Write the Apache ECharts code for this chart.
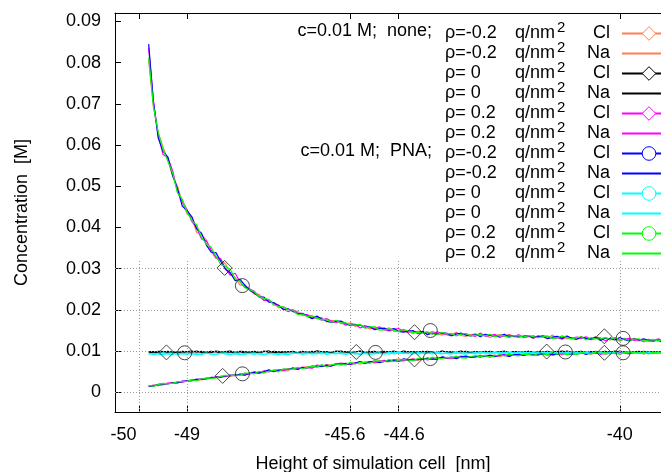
<!DOCTYPE html>
<html>
<head>
<meta charset="utf-8">
<script src="https://cdn.jsdelivr.net/npm/echarts@6/dist/echarts.min.js"></script>
<style>html,body{margin:0;padding:0;background:#fff}#c{width:661px;height:472px}</style>
</head>
<body>
<div id="c"></div>
<script>
// ---------- data ----------
var xs = [-49.8,-49.7,-49.6,-49.5,-49.4,-49.3,-49.2,-49.1,-49.0,-48.9,-48.8,-48.7,-48.6,-48.5,-48.4,-48.3,-48.2,-48.1,-48.0,-47.9,-47.8,-47.7,-47.6,-47.5,-47.4,-47.3,-47.2,-47.1,-47.0,-46.9,-46.8,-46.7,-46.6,-46.5,-46.4,-46.3,-46.2,-46.1,-46.0,-45.9,-45.8,-45.7,-45.6,-45.5,-45.4,-45.3,-45.2,-45.1,-45.0,-44.9,-44.8,-44.7,-44.6,-44.5,-44.4,-44.3,-44.2,-44.1,-44.0,-43.9,-43.8,-43.7,-43.6,-43.5,-43.4,-43.3,-43.2,-43.1,-43.0,-42.9,-42.8,-42.7,-42.6,-42.5,-42.4,-42.3,-42.2,-42.1,-42.0,-41.9,-41.8,-41.7,-41.6,-41.5,-41.4,-41.3,-41.2,-41.1,-41.0,-40.9,-40.8,-40.7,-40.6,-40.5,-40.4,-40.3,-40.2,-40.1,-40.0,-39.9,-39.8,-39.7,-39.6,-39.5,-39.4,-39.3,-39.2,-39.1];

// none, rho=-0.2, Cl (orange)
var noneM02Cl = [0.00142,0.00177,0.00177,0.00181,0.00221,0.00245,0.00233,0.00264,0.00287,0.00282,0.00309,0.00304,0.00347,0.00350,0.00356,0.00394,0.00388,0.00394,0.00439,0.00432,0.00424,0.00472,0.00499,0.00477,0.00469,0.00531,0.00522,0.00548,0.00532,0.00523,0.00598,0.00575,0.00594,0.00626,0.00595,0.00641,0.00624,0.00677,0.00660,0.00663,0.00701,0.00662,0.00706,0.00722,0.00682,0.00746,0.00733,0.00727,0.00777,0.00749,0.00742,0.00784,0.00812,0.00777,0.00776,0.00817,0.00774,0.00808,0.00828,0.00799,0.00854,0.00839,0.00824,0.00815,0.00869,0.00853,0.00872,0.00856,0.00847,0.00908,0.00864,0.00883,0.00909,0.00864,0.00903,0.00914,0.00897,0.00936,0.00891,0.00916,0.00933,0.00908,0.00953,0.00935,0.00910,0.00934,0.00908,0.00959,0.00933,0.00956,0.00937,0.00974,0.00927,0.00950,0.00965,0.00917,0.00960,0.00975,0.00941,0.00956,0.00978,0.00944,0.00966,0.00932,0.00975,0.00962,0.00991,0.00958];
// none, rho=-0.2, Na (orange)
var noneM02Na = [0.0806,0.0692,0.0629,0.0595,0.0563,0.0524,0.0500,0.0462,0.0433,0.0424,0.0388,0.0382,0.0370,0.0342,0.0325,0.0320,0.0312,0.0288,0.0279,0.0260,0.0261,0.0250,0.0238,0.0238,0.0225,0.0221,0.0217,0.0205,0.0208,0.0202,0.0196,0.0197,0.0186,0.0186,0.0185,0.0178,0.0182,0.0171,0.0174,0.0174,0.0167,0.0166,0.0169,0.0160,0.0163,0.0159,0.0154,0.0159,0.0156,0.0151,0.0157,0.0148,0.0150,0.0151,0.0147,0.0143,0.0149,0.0146,0.0142,0.0148,0.0143,0.0139,0.0144,0.0140,0.0146,0.0138,0.0136,0.0140,0.0142,0.0138,0.0140,0.0133,0.0138,0.0140,0.0135,0.0141,0.0135,0.0133,0.0138,0.0136,0.0131,0.0138,0.0134,0.0132,0.0139,0.0132,0.0135,0.0130,0.0133,0.0128,0.0135,0.0131,0.0129,0.0135,0.0129,0.0132,0.0127,0.0130,0.0124,0.0131,0.0128,0.0131,0.0125,0.0128,0.0123,0.0128,0.0125,0.0128];
// none, rho=0, Cl (black)
var none0Cl = [0.00986,0.00992,0.00956,0.00980,0.00998,0.00968,0.00986,0.00950,0.00992,0.01004,0.00974,0.00998,0.00968,0.00962,0.01004,0.00986,0.00968,0.00980,0.00956,0.00998,0.00992,0.00974,0.00980,0.00962,0.01004,0.00968,0.00998,0.00986,0.00956,0.00992,0.00980,0.00968,0.00998,0.00974,0.00956,0.01010,0.00986,0.00968,0.00962,0.00992,0.01004,0.00980,0.00962,0.00986,0.00998,0.00968,0.00992,0.00956,0.00980,0.00998,0.00974,0.01004,0.00968,0.00962,0.00986,0.00992,0.00974,0.00998,0.00956,0.00980,0.00968,0.00998,0.00986,0.00962,0.00980,0.01004,0.00974,0.00968,0.00992,0.00956,0.00998,0.00986,0.00968,0.00980,0.01004,0.00962,0.00992,0.00974,0.00980,0.00998,0.00962,0.00986,0.00992,0.00956,0.00980,0.00998,0.00968,0.01004,0.00974,0.00962,0.00992,0.00980,0.00974,0.00998,0.00956,0.00992,0.00980,0.00968,0.01004,0.00974,0.00962,0.00992,0.00980,0.00998,0.00974,0.00968,0.00986,0.00956];
// none, rho=0, Na (black)
var none0Na = [0.00975,0.00965,0.00995,0.00990,0.00970,0.00985,0.00960,0.00995,0.00980,0.00975,0.01000,0.00970,0.00975,0.00995,0.00980,0.00965,0.00990,0.01000,0.00970,0.00985,0.00960,0.00980,0.00995,0.00970,0.00985,0.01005,0.00965,0.00975,0.00990,0.00980,0.00995,0.00960,0.00985,0.00970,0.00995,0.00980,0.00975,0.00990,0.00965,0.01000,0.00975,0.00990,0.00970,0.00980,0.01000,0.00965,0.00985,0.00995,0.00960,0.00975,0.00990,0.00980,0.00965,0.01000,0.00985,0.00970,0.00980,0.00975,0.00995,0.00970,0.00965,0.01000,0.00980,0.00990,0.00960,0.00985,0.00995,0.00970,0.00980,0.00985,0.00975,0.00995,0.00965,0.00990,0.00980,0.00960,0.00990,0.00985,0.00970,0.00995,0.00980,0.00970,0.00985,0.00995,0.00965,0.00975,0.01000,0.00980,0.00970,0.00985,0.00995,0.00960,0.00990,0.00975,0.00980,0.00995,0.00970,0.01000,0.00965,0.00985,0.00970,0.00985,0.00995,0.00965,0.00980,0.00990,0.00975,0.00990];
// none, rho=0.2, Cl (magenta)
var noneP02Cl = [0.0836,0.0706,0.0623,0.0577,0.0569,0.0538,0.0486,0.0464,0.0443,0.0414,0.0400,0.0372,0.0368,0.0346,0.0327,0.0324,0.0300,0.0284,0.0289,0.0268,0.0255,0.0251,0.0245,0.0233,0.0223,0.0224,0.0215,0.0212,0.0203,0.0196,0.0201,0.0192,0.0189,0.0189,0.0180,0.0182,0.0175,0.0179,0.0173,0.0170,0.0172,0.0163,0.0166,0.0165,0.0156,0.0162,0.0158,0.0154,0.0159,0.0152,0.0149,0.0153,0.0155,0.0148,0.0146,0.0150,0.0142,0.0145,0.0146,0.0141,0.0147,0.0143,0.0140,0.0137,0.0144,0.0140,0.0142,0.0138,0.0136,0.0144,0.0136,0.0138,0.0141,0.0133,0.0138,0.0139,0.0135,0.0140,0.0133,0.0135,0.0137,0.0133,0.0138,0.0135,0.0131,0.0133,0.0129,0.0136,0.0131,0.0134,0.0131,0.0135,0.0128,0.0131,0.0132,0.0125,0.0131,0.0132,0.0127,0.0129,0.0131,0.0126,0.0128,0.0123,0.0129,0.0126,0.0130,0.0124];
// none, rho=0.2, Na (magenta)
var noneP02Na = [0.00154,0.00173,0.00165,0.00197,0.00225,0.00221,0.00249,0.00240,0.00283,0.00306,0.00301,0.00332,0.00327,0.00338,0.00380,0.00382,0.00384,0.00406,0.00403,0.00444,0.00459,0.00451,0.00471,0.00463,0.00525,0.00496,0.00543,0.00541,0.00518,0.00572,0.00570,0.00568,0.00615,0.00598,0.00588,0.00662,0.00645,0.00635,0.00639,0.00684,0.00708,0.00690,0.00678,0.00715,0.00738,0.00711,0.00747,0.00713,0.00749,0.00777,0.00756,0.00798,0.00763,0.00763,0.00797,0.00810,0.00795,0.00829,0.00786,0.00820,0.00812,0.00853,0.00845,0.00822,0.00848,0.00881,0.00851,0.00849,0.00882,0.00845,0.00899,0.00890,0.00874,0.00892,0.00924,0.00879,0.00918,0.00901,0.00912,0.00937,0.00898,0.00929,0.00939,0.00900,0.00931,0.00955,0.00922,0.00966,0.00933,0.00921,0.00958,0.00946,0.00941,0.00971,0.00923,0.00966,0.00953,0.00940,0.00983,0.00949,0.00936,0.00972,0.00959,0.00981,0.00954,0.00948,0.00970,0.00937];
// PNA, rho=-0.2, Cl (blue)
var pnaM02Cl = [0.00146,0.00153,0.00193,0.00205,0.00205,0.00233,0.00229,0.00272,0.00275,0.00286,0.00321,0.00312,0.00331,0.00362,0.00364,0.00366,0.00400,0.00422,0.00411,0.00436,0.00417,0.00458,0.00492,0.00470,0.00504,0.00545,0.00501,0.00527,0.00560,0.00558,0.00591,0.00554,0.00601,0.00591,0.00637,0.00627,0.00631,0.00663,0.00639,0.00698,0.00673,0.00704,0.00685,0.00708,0.00745,0.00704,0.00740,0.00762,0.00721,0.00749,0.00777,0.00770,0.00756,0.00812,0.00797,0.00782,0.00802,0.00801,0.00835,0.00806,0.00805,0.00860,0.00838,0.00857,0.00820,0.00860,0.00879,0.00849,0.00868,0.00880,0.00871,0.00904,0.00867,0.00906,0.00896,0.00872,0.00918,0.00915,0.00898,0.00937,0.00919,0.00908,0.00932,0.00949,0.00910,0.00927,0.00964,0.00938,0.00926,0.00949,0.00965,0.00918,0.00962,0.00943,0.00951,0.00973,0.00939,0.00982,0.00934,0.00963,0.00943,0.00965,0.00980,0.00939,0.00961,0.00976,0.00956,0.00979];
// PNA, rho=-0.2, Na (blue)
var pnaM02Na = [0.0845,0.0704,0.0617,0.0585,0.0571,0.0526,0.0494,0.0452,0.0441,0.0426,0.0396,0.0386,0.0358,0.0340,0.0339,0.0318,0.0298,0.0290,0.0271,0.0274,0.0260,0.0248,0.0241,0.0231,0.0231,0.0219,0.0218,0.0211,0.0201,0.0203,0.0197,0.0191,0.0192,0.0185,0.0179,0.0185,0.0178,0.0173,0.0170,0.0173,0.0173,0.0167,0.0162,0.0164,0.0164,0.0157,0.0160,0.0152,0.0155,0.0156,0.0151,0.0155,0.0148,0.0146,0.0149,0.0149,0.0145,0.0148,0.0140,0.0144,0.0141,0.0145,0.0143,0.0138,0.0141,0.0144,0.0139,0.0137,0.0141,0.0135,0.0141,0.0139,0.0136,0.0137,0.0141,0.0134,0.0138,0.0135,0.0136,0.0138,0.0132,0.0136,0.0136,0.0130,0.0134,0.0136,0.0131,0.0137,0.0131,0.0129,0.0134,0.0131,0.0130,0.0134,0.0126,0.0132,0.0130,0.0127,0.0133,0.0128,0.0125,0.0130,0.0127,0.0130,0.0126,0.0124,0.0127,0.0121];
// PNA, rho=0, Cl (cyan)
var pna0Cl = [0.00950,0.00915,0.00945,0.00960,0.00930,0.00920,0.00955,0.00935,0.00925,0.00950,0.00910,0.00940,0.00955,0.00925,0.00920,0.00945,0.00960,0.00930,0.00935,0.00915,0.00950,0.00940,0.00920,0.00955,0.00925,0.00935,0.00945,0.00910,0.00950,0.00940,0.00937,0.00962,0.00927,0.00942,0.00952,0.00932,0.00967,0.00922,0.00947,0.00957,0.00932,0.00937,0.00962,0.00927,0.00952,0.00942,0.00922,0.00957,0.00947,0.00932,0.00975,0.00935,0.00950,0.00960,0.00945,0.00930,0.00965,0.00955,0.00940,0.00970,0.00950,0.00935,0.00960,0.00945,0.00975,0.00940,0.00930,0.00955,0.00965,0.00945,0.00968,0.00933,0.00958,0.00973,0.00948,0.00978,0.00953,0.00943,0.00968,0.00963,0.00938,0.00973,0.00958,0.00948,0.00983,0.00953,0.00968,0.00943,0.00963,0.00938,0.00973,0.00958,0.00948,0.00978,0.00953,0.00968,0.00943,0.00963,0.00933,0.00968,0.00958,0.00973,0.00948,0.00963,0.00938,0.00968,0.00953,0.00973];
// PNA, rho=0, Na (cyan)
var pna0Na = [0.00925,0.00950,0.00930,0.00915,0.00945,0.00955,0.00920,0.00940,0.00950,0.00925,0.00940,0.00915,0.00950,0.00935,0.00925,0.00955,0.00930,0.00920,0.00960,0.00935,0.00920,0.00945,0.00955,0.00930,0.00915,0.00950,0.00935,0.00945,0.00925,0.00910,0.00962,0.00937,0.00942,0.00957,0.00927,0.00952,0.00932,0.00962,0.00942,0.00937,0.00957,0.00922,0.00947,0.00952,0.00917,0.00957,0.00942,0.00932,0.00962,0.00937,0.00935,0.00960,0.00975,0.00945,0.00940,0.00965,0.00930,0.00950,0.00960,0.00935,0.00970,0.00955,0.00940,0.00930,0.00965,0.00950,0.00960,0.00945,0.00935,0.00975,0.00948,0.00958,0.00973,0.00938,0.00963,0.00968,0.00953,0.00978,0.00943,0.00958,0.00968,0.00948,0.00978,0.00963,0.00943,0.00958,0.00938,0.00973,0.00953,0.00968,0.00953,0.00978,0.00943,0.00958,0.00968,0.00933,0.00963,0.00973,0.00948,0.00958,0.00973,0.00948,0.00963,0.00938,0.00968,0.00958,0.00978,0.00953];
// PNA, rho=0.2, Cl (green)
var pnaP02Cl = [0.0812,0.0694,0.0631,0.0589,0.0561,0.0532,0.0484,0.0468,0.0437,0.0416,0.0406,0.0376,0.0360,0.0352,0.0331,0.0310,0.0306,0.0298,0.0275,0.0270,0.0254,0.0249,0.0244,0.0232,0.0228,0.0226,0.0212,0.0209,0.0207,0.0201,0.0200,0.0189,0.0190,0.0184,0.0186,0.0180,0.0176,0.0177,0.0170,0.0175,0.0168,0.0169,0.0163,0.0163,0.0165,0.0156,0.0159,0.0159,0.0151,0.0152,0.0154,0.0151,0.0147,0.0153,0.0149,0.0145,0.0146,0.0144,0.0147,0.0142,0.0140,0.0146,0.0142,0.0143,0.0137,0.0141,0.0143,0.0137,0.0139,0.0140,0.0137,0.0141,0.0135,0.0139,0.0137,0.0133,0.0138,0.0137,0.0134,0.0138,0.0135,0.0133,0.0135,0.0137,0.0131,0.0132,0.0137,0.0133,0.0130,0.0133,0.0135,0.0127,0.0133,0.0130,0.0130,0.0133,0.0128,0.0133,0.0126,0.0130,0.0126,0.0129,0.0130,0.0124,0.0127,0.0128,0.0125,0.0127];
// PNA, rho=0.2, Na (green)
var pnaP02Na = [0.00162,0.00149,0.00189,0.00217,0.00209,0.00217,0.00261,0.00260,0.00267,0.00302,0.00285,0.00324,0.00351,0.00342,0.00352,0.00386,0.00412,0.00402,0.00419,0.00416,0.00466,0.00465,0.00450,0.00512,0.00483,0.00510,0.00536,0.00499,0.00567,0.00565,0.00563,0.00610,0.00573,0.00605,0.00630,0.00613,0.00673,0.00621,0.00667,0.00691,0.00666,0.00683,0.00727,0.00687,0.00731,0.00725,0.00705,0.00762,0.00756,0.00742,0.00798,0.00749,0.00777,0.00798,0.00783,0.00768,0.00823,0.00815,0.00800,0.00848,0.00826,0.00811,0.00852,0.00836,0.00883,0.00839,0.00830,0.00870,0.00889,0.00866,0.00892,0.00848,0.00888,0.00913,0.00882,0.00928,0.00897,0.00887,0.00926,0.00923,0.00891,0.00943,0.00925,0.00914,0.00966,0.00927,0.00950,0.00917,0.00947,0.00914,0.00965,0.00946,0.00934,0.00978,0.00944,0.00966,0.00932,0.00961,0.00920,0.00970,0.00957,0.00979,0.00945,0.00967,0.00933,0.00976,0.00956,0.00986];

// point markers drawn on the Cl curves (sparse)
var mkNoneM02X = [-48.26,-44.27,-40.32], mkNoneM02Y = [0.0040,0.0080,0.0096];
var mkNone0X   = [-49.43,-45.48,-41.52], mkNone0Y   = [0.0097,0.0098,0.0099];
var mkNoneP02X = [-48.22,-44.27,-40.32], mkNoneP02Y = [0.0302,0.0146,0.0136];
var mkPnaM02X  = [-47.85,-43.94,-39.93], mkPnaM02Y  = [0.0045,0.0082,0.0096];
var mkPna0X    = [-49.05,-45.08,-41.13], mkPna0Y    = [0.0096,0.0097,0.0098];
var mkPnaP02X  = [-47.85,-43.94,-39.93], mkPnaP02Y  = [0.0259,0.0150,0.0131];

// ticks and labels
var xTicks = [-50,-49,-45.6,-44.6,-40];
var xTickLabels = ['-50','-49','-45.6','-44.6','-40'];
var yTicks = [0,0.01,0.02,0.03,0.04,0.05,0.06,0.07,0.08,0.09];
var yTickLabels = ['0','0.01','0.02','0.03','0.04','0.05','0.06','0.07','0.08','0.09'];
var yGridTicks = [0,0.01,0.02,0.03];

// legend texts
var seriesNames = ['none m02 Cl','none m02 Na','none 0 Cl','none 0 Na','none p02 Cl','none p02 Na','pna m02 Cl','pna m02 Na','pna 0 Cl','pna 0 Na','pna p02 Cl','pna p02 Na'];
var groupLabels = ['c=0.01 M;  none;','c=0.01 M;  PNA;'];
var groupRows = [0, 6];
var rhoLabels = ['\u03c1=-0.2','\u03c1=-0.2','\u03c1= 0','\u03c1= 0','\u03c1= 0.2','\u03c1= 0.2','\u03c1=-0.2','\u03c1=-0.2','\u03c1= 0','\u03c1= 0','\u03c1= 0.2','\u03c1= 0.2'];
var ionLabels = ['Cl','Na','Cl','Na','Cl','Na','Cl','Na','Cl','Na','Cl','Na'];
var unitLabel = 'q/nm', unitExp = '2';

// ---------- chart ----------
var FONT = "'Liberation Sans', Arial, Helvetica, sans-serif";
var colors = ['#ff7f50','#ff7f50','#000000','#000000','#ff00ff','#ff00ff','#0000ff','#0000ff','#00ffff','#00ffff','#00ff00','#00ff00'];
var values = [noneM02Cl,noneM02Na,none0Cl,none0Na,noneP02Cl,noneP02Na,pnaM02Cl,pnaM02Na,pna0Cl,pna0Na,pnaP02Cl,pnaP02Na];
var legendSymbols = ['diamond',null,'diamond',null,'diamond',null,'circle',null,'circle',null,'circle',null];

var XMIN = -50.5, XMAX = -39.142, YMIN = -0.00476, YMAX = 0.09204, YGRIDTOP = 0.0319;
var LEGEND_TOP = 20, ROW_H = 20;

function pairs(xa, ya) { return xa.map(function (x, i) { return [x, ya[i]]; }); }

var series = [];
var gridLines = [];
xTicks.forEach(function (x) { gridLines.push([{coord: [x, YMIN]}, {coord: [x, YGRIDTOP]}]); });
yGridTicks.forEach(function (y) { gridLines.push([{coord: [XMIN, y]}, {coord: [XMAX, y]}]); });
series.push({
  name: 'gridlines', type: 'line', data: [], silent: true, z: 1,
  markLine: {silent: true, animation: false, symbol: ['none','none'], label: {show: false},
    lineStyle: {color: '#9a9a9a', type: [1, 2], width: 1}, emphasis: {disabled: true}, data: gridLines}
});

var legendData = [];
seriesNames.forEach(function (nm, i) {
  var sym = legendSymbols[i];
  series.push({
    name: nm, type: 'line', data: pairs(xs, values[i]),
    showSymbol: false, symbol: sym || 'circle', symbolSize: 14,
    lineStyle: {color: colors[i], width: 1.2},
    itemStyle: {color: colors[i]},
    silent: true, z: 3, clip: true, animation: false
  });
  if (sym) {
    legendData.push({name: nm, itemStyle: {color: '#ffffff', borderColor: colors[i], borderWidth: 1}});
  } else {
    legendData.push({name: nm, itemStyle: {opacity: 0}});
  }
});

var markerSets = [
  [mkNoneM02X, mkNoneM02Y, 'diamond', 15],
  [mkNone0X, mkNone0Y, 'diamond', 15],
  [mkNoneP02X, mkNoneP02Y, 'diamond', 15],
  [mkPnaM02X, mkPnaM02Y, 'circle', 14],
  [mkPna0X, mkPna0Y, 'circle', 14],
  [mkPnaP02X, mkPnaP02Y, 'circle', 14]
];
markerSets.forEach(function (m, i) {
  series.push({
    name: 'markers' + i, type: 'scatter', data: pairs(m[0], m[1]),
    symbol: m[2], symbolSize: m[3], silent: true, z: 5, animation: false,
    itemStyle: {color: 'rgba(0,0,0,0)', borderColor: '#1a1a1a', borderWidth: 1}
  });
});

var xLabelStyle = {
  l: {fontFamily: FONT, fontSize: 18, color: '#000', padding: [0, 31, 0, 0]},
  m: {fontFamily: FONT, fontSize: 18, color: '#000', padding: [0, 11, 0, 0]},
  r: {fontFamily: FONT, fontSize: 18, color: '#000', padding: [0, 0, 0, 11]},
  n: {fontFamily: FONT, fontSize: 18, color: '#000'}
};
var xLabelKeys = ['l','n','m','r','n'];

var graphics = groupLabels.map(function (t, g) {
  return {
    type: 'text', x: 432, y: LEGEND_TOP + ROW_H * groupRows[g] + 11, silent: true, z: 10,
    style: {text: t, fill: '#000', font: '18px ' + FONT, textAlign: 'right', textVerticalAlign: 'middle', align: 'right', verticalAlign: 'middle'}
  };
});

var option = {
  animation: false,
  backgroundColor: '#ffffff',
  grid: {left: 115, right: 0, top: 13, bottom: 60, containLabel: false, outerBoundsMode: 'none'},
  xAxis: [{
    type: 'value', position: 'bottom', min: XMIN, max: XMAX,
    axisLine: {show: true, onZero: false, lineStyle: {color: '#000', width: 1}},
    axisTick: {show: true, inside: true, length: 6, customValues: xTicks, lineStyle: {color: '#000'}},
    axisLabel: {
      customValues: xTicks, margin: 14, color: '#000', fontSize: 18, fontFamily: FONT,
      formatter: function (v) {
        var i = xTicks.indexOf(v);
        return '{' + xLabelKeys[i] + '|' + xTickLabels[i] + '}';
      },
      rich: xLabelStyle
    },
    splitLine: {show: false},
    name: 'Height of simulation cell  [nm]', nameLocation: 'middle', nameGap: 43,
    nameTextStyle: {color: '#000', fontSize: 18, fontFamily: FONT, padding: [0, 30, 0, 0]}
  }, {
    type: 'value', position: 'top', min: XMIN, max: XMAX,
    axisLine: {show: true, onZero: false, lineStyle: {color: '#000', width: 1}},
    axisTick: {show: true, inside: true, length: 6, customValues: xTicks, lineStyle: {color: '#000'}},
    axisLabel: {show: false}, splitLine: {show: false}
  }],
  yAxis: [{
    type: 'value', min: YMIN, max: YMAX,
    axisLine: {show: true, onZero: false, lineStyle: {color: '#000', width: 1}},
    axisTick: {show: true, inside: true, length: 6, customValues: yTicks, lineStyle: {color: '#000'}},
    axisLabel: {
      customValues: yTicks, margin: 14, color: '#000', fontSize: 18, fontFamily: FONT,
      formatter: function (v) { return yTickLabels[yTicks.indexOf(v)]; }
    },
    splitLine: {show: false},
    name: 'Concentration  [M]', nameLocation: 'middle', nameGap: 84, nameRotate: 90,
    nameTextStyle: {color: '#000', fontSize: 18, fontFamily: FONT}
  }],
  legend: {
    show: true, orient: 'vertical', right: -16, top: LEGEND_TOP, padding: 0,
    align: 'right', itemWidth: 54, itemHeight: 17, itemGap: -3.5,
    selectedMode: false, data: legendData,
    textStyle: {
      color: '#000', fontFamily: FONT, fontSize: 18, lineHeight: ROW_H,
      rich: {
        b: {fontFamily: FONT, fontSize: 18, color: '#000', lineHeight: ROW_H, width: 70, align: 'left'},
        c: {fontFamily: FONT, fontSize: 18, color: '#000', lineHeight: ROW_H, width: 42, align: 'left'},
        s: {fontFamily: FONT, fontSize: 15, color: '#000', lineHeight: 6, width: 13, align: 'left', padding: [-6, 0, 6, 0]},
        d: {fontFamily: FONT, fontSize: 18, color: '#000', lineHeight: ROW_H, width: 40, align: 'right', padding: [0, 7, 0, 0]}
      }
    },
    formatter: function (name) {
      var i = seriesNames.indexOf(name);
      return '{b|' + rhoLabels[i] + '}{c|' + unitLabel + '}{s|' + unitExp + '}{d|' + ionLabels[i] + '}';
    }
  },
  graphic: graphics,
  series: series
};

var chart = echarts.init(document.getElementById('c'), null, {renderer: 'canvas'});
chart.setOption(option);
</script>
</body>
</html>
